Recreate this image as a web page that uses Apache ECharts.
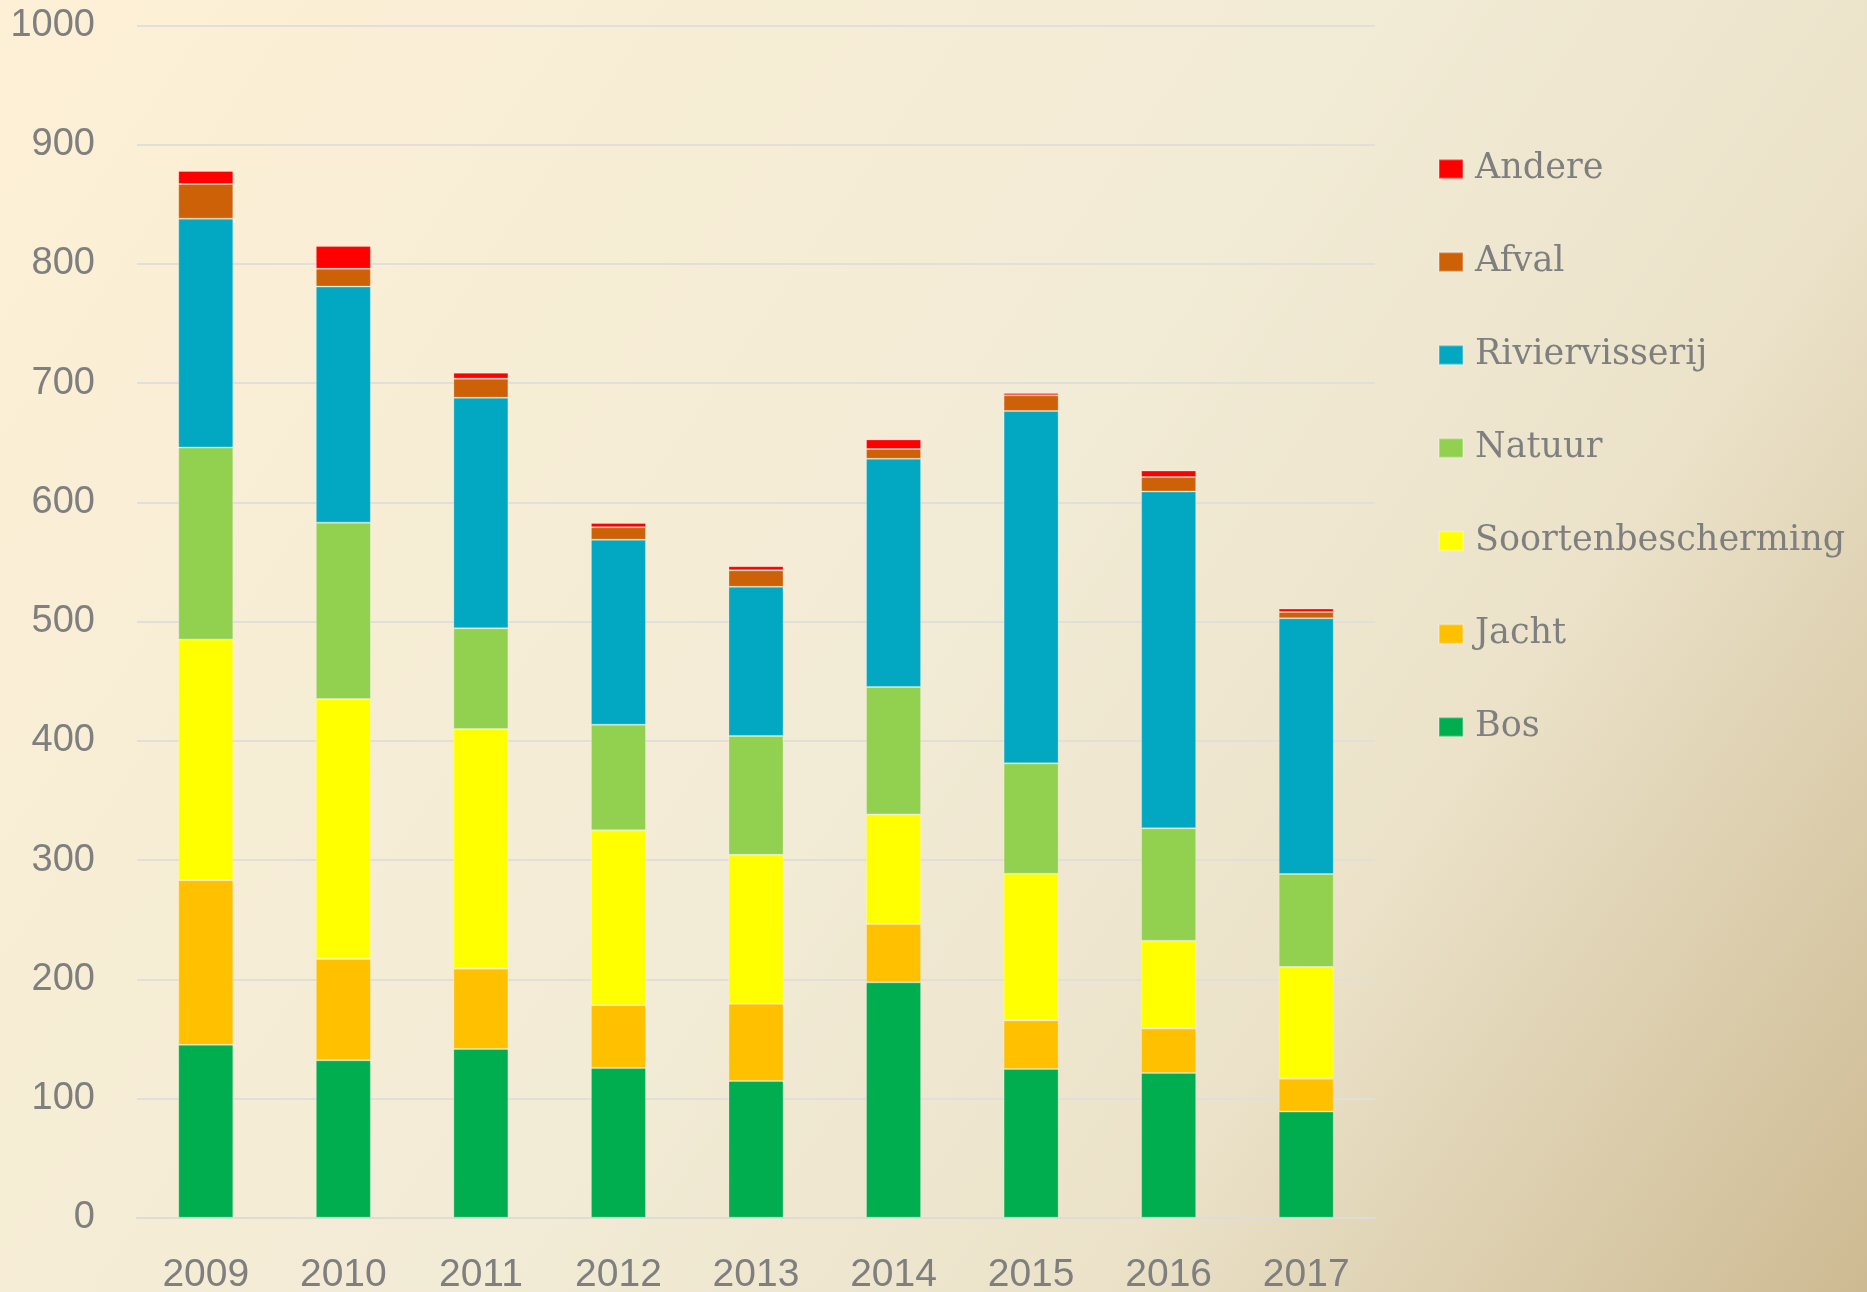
<!DOCTYPE html>
<html>
<head>
<meta charset="utf-8">
<script src="https://cdn.jsdelivr.net/npm/echarts@6/dist/echarts.min.js"></script>
<style>
  html, body { margin: 0; padding: 0; background: #fff; }
  #chart { width: 1867px; height: 1292px; }
</style>
</head>
<body>
<div id="chart"></div>
<script>
const years = ['2009', '2010', '2011', '2012', '2013', '2014', '2015', '2016', '2017'];

const bos = [145, 132, 141.5, 125.5, 114.7, 197.4, 124.8, 121.4, 89];
const jacht = [138, 85, 67.4, 52.8, 64.8, 49, 40.7, 37.2, 27.5];
const soortenbescherming = [202, 218, 201, 146.7, 124.9, 91.9, 123, 73.7, 93.9];
const natuur = [161, 148, 84.5, 88.5, 99.7, 106.9, 92.6, 94.3, 77.9];
const riviervisserij = [192, 198, 193.4, 155.2, 125.1, 191.4, 295.6, 282.5, 214.5];
const afval = [29, 15, 16, 10.5, 13.8, 8.1, 13.1, 12.1, 5.3];
const andere = [11, 19, 5, 3.5, 3.5, 8.1, 1.9, 5.5, 2.8];

const yTicks = [0, 100, 200, 300, 400, 500, 600, 700, 800, 900, 1000];

const seriesDefs = [
  { name: 'Bos', data: bos, color: '#00ad4f' },
  { name: 'Jacht', data: jacht, color: '#ffc000' },
  { name: 'Soortenbescherming', data: soortenbescherming, color: '#ffff00' },
  { name: 'Natuur', data: natuur, color: '#92d050' },
  { name: 'Riviervisserij', data: riviervisserij, color: '#02a8c2' },
  { name: 'Afval', data: afval, color: '#cc6108' },
  { name: 'Andere', data: andere, color: '#ff0000' },
];

const chart = echarts.init(document.getElementById('chart'));

const option = {
  animation: false,
  backgroundColor: new echarts.graphic.LinearGradient(0, 0, 1, 1, [
    { offset: 0, color: '#fdf0d6' },
    { offset: 0.5, color: '#f2ebd5' },
    { offset: 0.72, color: '#ebe2c9' },
    { offset: 1, color: '#cdba92' },
  ]),
  grid: {
    left: 137,
    right: 492,
    top: 25.5,
    bottom: 74.3,
    containLabel: false,
    outerBoundsMode: 'none',
  },
  legend: {
    orient: 'vertical',
    left: 1438,
    top: 149,
    padding: 0,
    itemWidth: 24,
    itemHeight: 19,
    itemGap: 53,
    icon: 'rect',
    data: seriesDefs.map(s => s.name).reverse(),
    textStyle: {
      color: '#7f7f7f',
      fontSize: 35,
      fontFamily: 'DejaVu Serif',
      lineHeight: 40,
      padding: [0, 0, 0, 7],
    },
  },
  xAxis: {
    type: 'category',
    data: years,
    axisTick: { show: false },
    axisLine: { lineStyle: { color: '#dedcd8', width: 2 } },
    axisLabel: {
      color: '#7f7f7f',
      fontSize: 39,
      fontFamily: 'Liberation Sans',
      margin: 38,
    },
  },
  yAxis: {
    type: 'value',
    min: yTicks[0],
    max: yTicks[yTicks.length - 1],
    interval: 100,
    axisLine: { show: false },
    axisTick: { show: false },
    splitLine: { lineStyle: { color: '#e2dfd9', width: 2 } },
    axisLabel: {
      color: '#7f7f7f',
      fontSize: 38,
      fontFamily: 'Liberation Sans',
      margin: 42,
      formatter: v => String(v),
    },
  },
  series: seriesDefs.map(s => ({
    name: s.name,
    type: 'bar',
    stack: 'total',
    barWidth: '40%',
    data: s.data,
    itemStyle: {
      color: s.color,
      borderColor: 'rgba(255,255,255,0.25)',
      borderWidth: 1,
    },
  })),
};

chart.setOption(option);
</script>
</body>
</html>
